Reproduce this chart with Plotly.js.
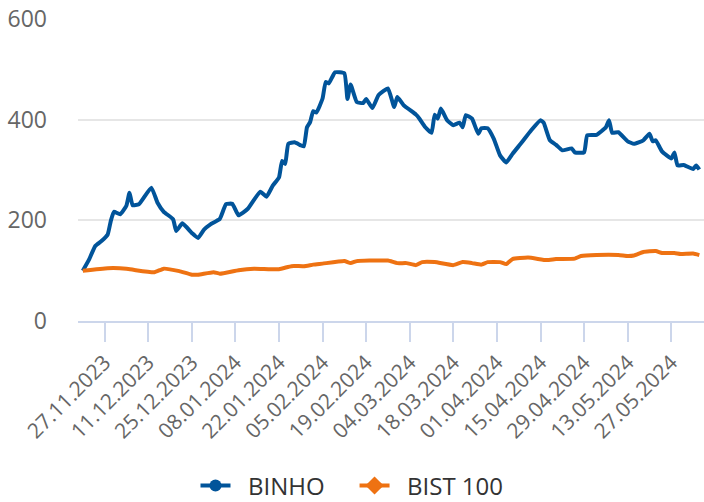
<!DOCTYPE html>
<html>
<head>
<meta charset="utf-8">
<script src="https://cdn.plot.ly/plotly-3.0.1.min.js"></script>
<style>html,body{margin:0;padding:0;background:#fff;}#chart{width:704px;height:502px;}</style>
</head>
<body>
<div id="chart"></div>
<script>
const binhoDates = ["2023-11-20","2023-11-22","2023-11-24","2023-11-26","2023-11-28","2023-11-29","2023-11-30","2023-12-02","2023-12-04","2023-12-05","2023-12-06","2023-12-08","2023-12-12","2023-12-14","2023-12-16","2023-12-19","2023-12-20","2023-12-22","2023-12-25","2023-12-27","2023-12-29","2023-12-31","2024-01-03","2024-01-05","2024-01-07","2024-01-09","2024-01-12","2024-01-16","2024-01-18","2024-01-20","2024-01-22","2024-01-23","2024-01-24","2024-01-25","2024-01-27","2024-01-29","2024-01-30","2024-01-31","2024-02-01","2024-02-02","2024-02-03","2024-02-05","2024-02-06","2024-02-07","2024-02-09","2024-02-12","2024-02-13","2024-02-14","2024-02-16","2024-02-18","2024-02-19","2024-02-21","2024-02-23","2024-02-26","2024-02-28","2024-02-29","2024-03-02","2024-03-06","2024-03-07","2024-03-09","2024-03-11","2024-03-12","2024-03-13","2024-03-14","2024-03-16","2024-03-18","2024-03-20","2024-03-21","2024-03-22","2024-03-24","2024-03-26","2024-03-27","2024-03-29","2024-03-31","2024-04-02","2024-04-04","2024-04-06","2024-04-09","2024-04-12","2024-04-15","2024-04-16","2024-04-18","2024-04-20","2024-04-22","2024-04-25","2024-04-26","2024-04-29","2024-04-30","2024-05-03","2024-05-06","2024-05-07","2024-05-08","2024-05-10","2024-05-13","2024-05-15","2024-05-18","2024-05-20","2024-05-21","2024-05-22","2024-05-24","2024-05-27","2024-05-28","2024-05-29","2024-05-31","2024-06-03","2024-06-04","2024-06-05"];
const binhoValues = [100,122,149,159,172,199,217,212,229,255,230,232,265,235,217,202,179,194,175,165,182,192,203,232,233,210,223,257,247,269,285,318,312,352,355,349,347,385,395,417,414,442,475,472,494,492,441,470,435,433,441,423,449,462,425,445,429,410,403,385,374,410,402,422,399,389,394,385,409,402,372,383,383,362,329,315,332,355,379,399,394,359,350,339,343,335,335,369,370,385,399,374,375,357,352,359,372,357,359,337,323,335,309,310,302,309,301];

const bistDates = ["2023-11-20","2023-11-28","2023-12-04","2023-12-07","2023-12-13","2023-12-16","2023-12-21","2023-12-25","2023-12-27","2024-01-01","2024-01-03","2024-01-09","2024-01-14","2024-01-22","2024-01-26","2024-01-30","2024-02-02","2024-02-05","2024-02-12","2024-02-14","2024-02-16","2024-02-20","2024-02-26","2024-02-29","2024-03-03","2024-03-06","2024-03-08","2024-03-12","2024-03-18","2024-03-21","2024-03-24","2024-03-27","2024-03-29","2024-04-02","2024-04-04","2024-04-06","2024-04-11","2024-04-17","2024-04-20","2024-04-26","2024-04-28","2024-05-03","2024-05-10","2024-05-13","2024-05-15","2024-05-18","2024-05-22","2024-05-24","2024-05-28","2024-05-30","2024-06-03","2024-06-05"];
const bistValues = [100,105,104,101,97,104,99,92,92,97,94,101,104,103,109,109,112,114,119,115,119,120,120,115,115,111,117,117,111,117,115,112,117,117,113,123,126,121,123,124,129,131,131,129,130,137,139,135,135,133,134,131];

const seriesNames = ["BINHO", "BIST 100"];
const seriesColors = ["#01549a", "#ee7212"];
const yTicks = [0, 200, 400, 600];

const NB = "\u00a0";
const traces = [
  {x: binhoDates, y: binhoValues, type: "scatter", mode: "lines", name: seriesNames[0],
   line: {color: seriesColors[0], width: 4, shape: "spline", smoothing: 0.4}, showlegend: false, hoverinfo: "skip"},
  {x: bistDates, y: bistValues, type: "scatter", mode: "lines", name: seriesNames[1],
   line: {color: seriesColors[1], width: 4, shape: "spline", smoothing: 0.4}, showlegend: false, hoverinfo: "skip"},
  {x: [null], y: [null], type: "scatter", mode: "lines+markers", name: NB + NB + seriesNames[0] + NB + NB + NB + NB,
   line: {color: seriesColors[0], width: 4}, marker: {symbol: "circle", size: 12, color: seriesColors[0]}},
  {x: [null], y: [null], type: "scatter", mode: "lines+markers", name: NB + NB + seriesNames[1],
   line: {color: seriesColors[1], width: 4}, marker: {symbol: "diamond", size: 14, color: seriesColors[1]}}
];

const layout = {
  width: 704, height: 502,
  margin: {l: 78, r: 0, t: 19, b: 181, pad: 0, autoexpand: false},
  paper_bgcolor: "#ffffff", plot_bgcolor: "#ffffff",
  font: {family: "Open Sans, sans-serif", color: "#666666"},
  showlegend: true,
  legend: {orientation: "h", x: 0.4377, xanchor: "center", y: -0.546, yanchor: "middle",
           font: {size: 24, color: "#333333"}, itemwidth: 30, traceorder: "normal"},
  xaxis: {
    type: "date", automargin: false,
    range: ["2023-11-18 11:00", "2024-06-06 12:00"],
    tick0: "2023-11-27", dtick: 14 * 86400000,
    tickformat: "%d.%m.%Y", tickangle: -45,
    tickfont: {size: 21, color: "#666666"},
    ticks: "outside", ticklen: 19, tickwidth: 2, tickcolor: "#ccd6eb",
    showline: true, linecolor: "#ccd6eb", linewidth: 2,
    showgrid: false, zeroline: false, fixedrange: true
  },
  yaxis: {
    automargin: false,
    range: [0, 600], tickvals: yTicks, ticktext: yTicks.map(String),
    tickfont: {size: 23, color: "#666666"},
    showgrid: true, gridcolor: "#e6e6e6", gridwidth: 2,
    zeroline: false, showline: false, ticks: "", ticklabelstandoff: 30, fixedrange: true
  }
};

Plotly.newPlot("chart", traces, layout, {staticPlot: true, displayModeBar: false});
</script>
</body>
</html>
